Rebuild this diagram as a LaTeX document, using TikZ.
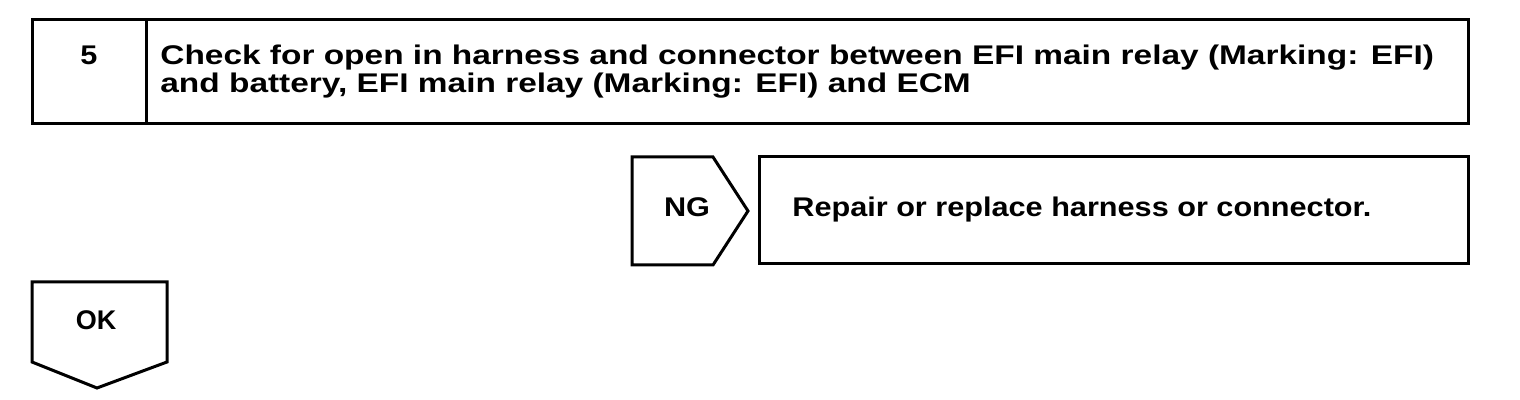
\documentclass[tikz,border=0pt]{standalone}
\usepackage{fontspec}
\setmainfont{Liberation Sans}
\newfontfamily\headfont[FakeStretch=1.238]{Liberation Sans}
\newfontfamily\stepfont[FakeStretch=1.135]{Liberation Sans}
\usetikzlibrary{positioning}

\begin{document}
\begin{tikzpicture}[
        x=0.5pt, y=-0.5pt,
        frame/.style={draw, line width=1.5pt, line join=miter},
        label/.style={inner sep=0pt, font=\fontsize{13.5}{14}\stepfont\bfseries},
        body/.style={label, align=left, font=\fontsize{13.5}{14}\headfont\bfseries}
    ]
        \useasboundingbox (0,0) rectangle (1520,400);

        % step 5 header
        \draw[frame] (32,20) rectangle (1468,124);
        \draw[frame] (146,20) -- (146,124);
        \node[label, anchor=base] (num) at (89,65) {5};
        \node[body, anchor=north west] (check) at (160,45) {Check for open in harness and connector between EFI main relay (Marking: EFI)\\and battery, EFI main relay (Marking: EFI) and ECM};

        % NG branch
        \draw[frame] (632,157) -- (713,157) -- (748,211) -- (713,265) -- (632,265) -- cycle;
        \node[label, anchor=base] (ng) at (687,217) {NG};
        \draw[frame] (759,157) rectangle (1468,264);
        \node[label, anchor=base west] (repair) at (792,217) {Repair or replace harness or connector.};

        % OK branch
        \draw[frame] (32,282) -- (167,282) -- (167,362) -- (97,388) -- (32,362) -- cycle;
        \node[label, anchor=base, font=\fontsize{13.5}{14}\selectfont\bfseries] (ok) at (96,330) {OK};
    \end{tikzpicture}
\end{document}
